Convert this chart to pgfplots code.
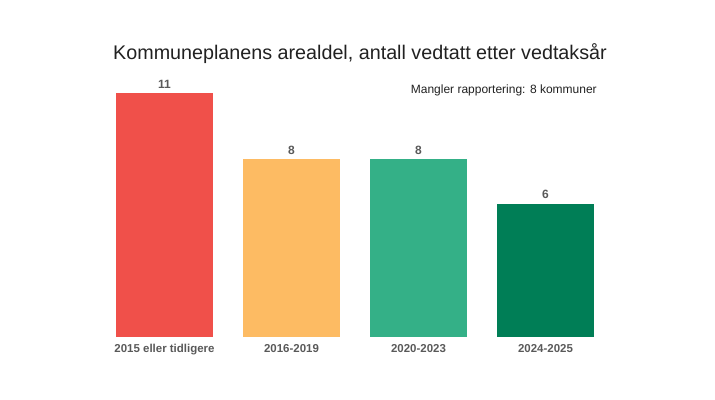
\documentclass[border=0pt]{standalone}
\usepackage{fontspec}
\setmainfont{Liberation Sans}
\usepackage{pgfplots}
\pgfplotsset{compat=1.18}
\definecolor{cred}{HTML}{F0504A}
\definecolor{corange}{HTML}{FDBB63}
\definecolor{cgreen}{HTML}{34B087}
\definecolor{cdark}{HTML}{007E56}
\definecolor{lbl}{HTML}{595959}
\begin{document}
\begin{tikzpicture}
\path[use as bounding box] (0,0) rectangle (536.25pt,300pt);
\begin{axis}[
  at={(75.75pt,47.25pt)}, anchor=south west,
  scale only axis, width=381pt, height=199.8pt,
  xmin=-0.5, xmax=3.5, ymin=0, ymax=12,
  ybar, bar width=72.75pt, bar shift=0pt,
  axis line style={draw=none}, tick style={draw=none},
  ytick=\empty,
  xtick={0,1,2,3},
  xticklabels={2015 eller tidligere,2016-2019,2020-2023,2024-2025},
  xticklabel style={font=\fontsize{8.6}{10}\selectfont\bfseries, text=lbl,
    text height=1.6ex, text depth=0.4ex, yshift=5pt},
  nodes near coords,
  nodes near coords style={font=\fontsize{9}{11}\selectfont\bfseries, text=lbl},
  /pgf/number format/assume math mode=true,
]
\addplot[fill=cred, draw=none] coordinates {(0,11)};
\addplot[fill=corange, draw=none] coordinates {(1,8)};
\addplot[fill=cgreen, draw=none] coordinates {(2,8)};
\addplot[fill=cdark, draw=none] coordinates {(3,6)};
\end{axis}
\node[font=\fontsize{14.8}{17}\selectfont, text=black!87] at (270pt,259.5pt) {Kommuneplanens arealdel, antall vedtatt etter vedtaksår};
\node[font=\fontsize{9}{11}\selectfont, text=black!87, anchor=east, inner sep=0pt] at (447.75pt,232.5pt) {Mangler rapportering: 8 kommuner};
\end{tikzpicture}
\end{document}
